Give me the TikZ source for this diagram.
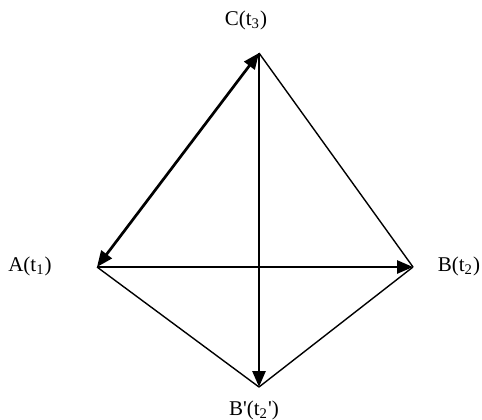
\documentclass[tikz,border=0pt]{standalone}
\usepackage{fontspec}
\setmainfont{Liberation Serif}
\usetikzlibrary{arrows.meta, positioning}

\begin{document}
\begin{tikzpicture}[
  x=0.5pt, y=-0.5pt,
  label/.style={font=\fontsize{10.5}{12}\selectfont, inner sep=1pt},
  arrow/.style={line width=1.35pt, -{Triangle[length=8pt, width=6.5pt]}},
  twoway/.style={line width=1.35pt, {Triangle[length=8pt, width=6.5pt]}-{Triangle[length=8pt, width=6.5pt]}},
  plain/.style={line width=0.7pt}
]
\useasboundingbox (0,0) rectangle (482,419);

% Vertices
\coordinate (C) at (259,53);
\coordinate (A) at (97,267);
\coordinate (B) at (413,267);
\coordinate (Bp) at (259,387);

% Labels
\node[label] (labC) at (246,20) {C(t\textsubscript{3})};
\node[label] (labA) at (30,266) {A(t\textsubscript{1})};
\node[label] (labB) at (459,266) {B(t\textsubscript{2})};
\node[label] (labBp) at (254,410) {B\textquotesingle(t\textsubscript{2}\textquotesingle)};

% Edges
\draw[plain] (C) -- (B);
\draw[plain] (A) -- (Bp);
\draw[plain] (Bp) -- (B);
\draw[twoway] (A) -- (C);
\draw[arrow] (A) -- (B);
\draw[arrow] (C) -- (Bp);

\end{tikzpicture}
\end{document}
